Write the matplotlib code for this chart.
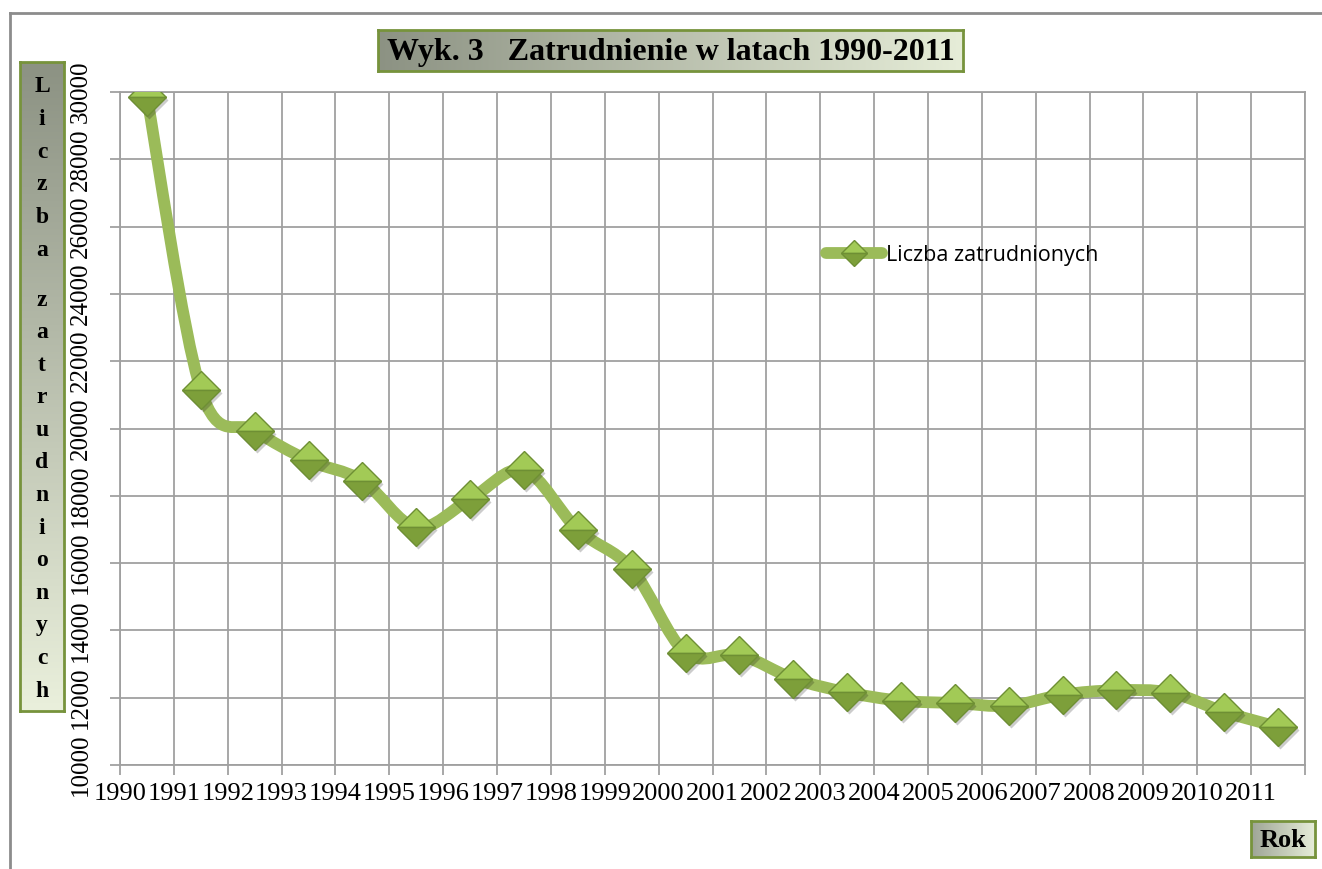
import numpy as np
import matplotlib.pyplot as plt
import matplotlib.transforms as mtransforms
from matplotlib.path import Path
from matplotlib.patches import PathPatch
from matplotlib.colors import LinearSegmentedColormap
from matplotlib.lines import Line2D

# data
years = [str(y) for y in range(1990, 2012)]
employed = [29860, 21150, 19940, 19050, 18450, 17060, 17900, 18760, 16990, 15830,
            13340, 13270, 12570, 12160, 11910, 11840, 11760, 12090, 12220, 12150,
            11580, 11130]
series_name = "Liczba zatrudnionych"
title = "Wyk. 3   Zatrudnienie w latach 1990-2011"
ylabel_words = ["Liczba", "zatrudnionych"]
xlabel = "Rok"

W, H = 1322, 869
SERIF = "Liberation Serif"
GREEN = "#9BBB59"
BORDER = "#77933C"
GRID = "#A0A0A0"

fig = plt.figure(figsize=(W / 100, H / 100), dpi=100)


def fbox(x0, y0, x1, y1):
    # pixel box (top-left origin) -> figure fraction rect
    return [x0 / W, 1 - y1 / H, (x1 - x0) / W, (y1 - y0) / H]


# ---- plot area ----
ax = fig.add_axes(fbox(120, 92, 1305, 765))
x = np.arange(len(years))
ax.set_xlim(-0.5, len(years) - 0.5)
ax.set_ylim(10000, 30000)
ax.set_xticks(np.arange(len(years) + 1) - 0.5)
ax.set_xticklabels(years + [""], fontfamily=SERIF, fontsize=19)
ax.set_yticks(range(10000, 30001, 2000))
ax.set_yticklabels([str(v) for v in range(10000, 30001, 2000)],
                   fontfamily=SERIF, fontsize=18, rotation=90, va="center")
ax.grid(True, color=GRID, lw=1.3)
ax.set_axisbelow(True)
for s in ax.spines.values():
    s.set_color(GRID)
    s.set_linewidth(1.3)
ax.tick_params(axis="both", length=7, width=1.3, color=GRID, direction="out")
ax.tick_params(axis="x", pad=6)
ax.tick_params(axis="y", pad=13)

# smoothed line (Excel style bezier through the points)
pts = np.column_stack([x, employed]).astype(float)
verts = [pts[0]]
codes = [Path.MOVETO]
n = len(pts)
for i in range(n - 1):
    p0, p1 = pts[max(i - 1, 0)], pts[i]
    p2, p3 = pts[i + 1], pts[min(i + 2, n - 1)]
    verts += [p1 + (p2 - p0) / 6, p2 - (p3 - p1) / 6, p2]
    codes += [Path.CURVE4] * 3
ax.add_patch(PathPatch(Path(verts, codes), fill=False, ec=GREEN, lw=8.5,
                       capstyle="round", joinstyle="round", zorder=3))

# markers with a soft shadow
shadow = mtransforms.offset_copy(ax.transData, fig=fig, x=2, y=-3, units="dots")
ax.plot(x, employed, ls="none", marker="D", ms=19, color="black", alpha=0.2,
        mec="none", transform=shadow, zorder=4)
ax.plot(x, employed, ls="none", marker="D", ms=19, fillstyle="top",
        mfc="#A2CA56", mfcalt="#7D9F3A", mec="#6E8F34", mew=1, zorder=5)

# legend
handle = Line2D([], [], color=GREEN, lw=8.5, marker="D", ms=13, fillstyle="top",
                mfc="#A2CA56", mfcalt="#7D9F3A", mec="#6E8F34", mew=1,
                solid_capstyle="round")
fig.legend([handle], [series_name], loc="center left",
           bbox_to_anchor=(826 / W, 1 - 255 / H), frameon=False, borderpad=0,
           borderaxespad=0, handlelength=2.6, handletextpad=0.2,
           prop={"family": "Open Sans", "size": 15.5})


# ---- gradient label boxes ----
def grad_box(x0, y0, x1, y1, c0, c1, vertical):
    bax = fig.add_axes(fbox(x0, y0, x1, y1))
    g = np.linspace(0, 1, 256)
    img = g[:, None] if vertical else g[None, :]
    cmap = LinearSegmentedColormap.from_list("g", [c0, c1])
    bax.imshow(img, aspect="auto", cmap=cmap, extent=[0, 1, 0, 1])
    bax.set_xlim(0, 1)
    bax.set_ylim(0, 1)
    bax.set_xticks([])
    bax.set_yticks([])
    for s in bax.spines.values():
        s.set_color(BORDER)
        s.set_linewidth(2)
    return bax


tb = grad_box(378, 30, 963, 71, "#8C9283", "#E6EDD8", vertical=False)
tb.text(0.5, 0.45, title, transform=tb.transAxes, ha="center", va="center",
        fontfamily=SERIF, fontweight="bold", fontsize=23)

yb = grad_box(20, 62, 64, 711, "#8C9283", "#EAF0DC", vertical=True)
for k, ch in enumerate(ylabel_words[0]):
    fig.text(42 / W, 1 - (87 + 32.6 * k) / H, ch, ha="center", va="center",
             fontfamily=SERIF, fontweight="bold", fontsize=17)
for k, ch in enumerate(ylabel_words[1]):
    fig.text(42 / W, 1 - (300 + 32.6 * k) / H, ch, ha="center", va="center",
             fontfamily=SERIF, fontweight="bold", fontsize=17)

rb = grad_box(1251, 821, 1315, 857, "#9EA596", "#E6EDD8", vertical=False)
rb.text(0.5, 0.45, xlabel, transform=rb.transAxes, ha="center", va="center",
        fontfamily=SERIF, fontweight="bold", fontsize=19)

# outer chart border (left and top visible)
fig.add_artist(Line2D([10 / W, 10 / W], [0, 1 - 13 / H], color="#8C8C8C", lw=2))
fig.add_artist(Line2D([10 / W, 1], [1 - 13 / H, 1 - 13 / H], color="#8C8C8C", lw=2))

fig.savefig("out.png", dpi=100)
